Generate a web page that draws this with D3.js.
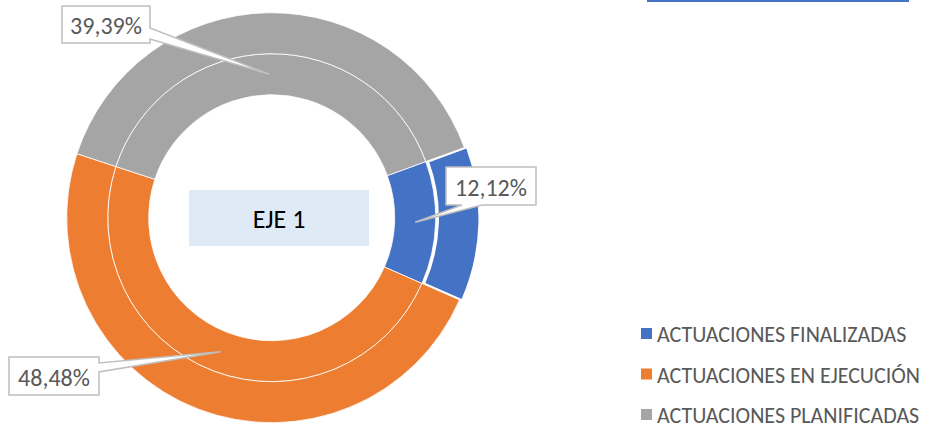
<!DOCTYPE html>
<html>
<head>
    <meta charset="utf-8">
    <title>EJE 1</title>
    <style>
        body { margin: 0; background: #fff; }
        svg { display: block; }
    </style>
    <script src="https://cdnjs.cloudflare.com/ajax/libs/d3/7.8.5/d3.min.js"></script>
</head>
<body>
    <script>
        const categories = ["ACTUACIONES FINALIZADAS", "ACTUACIONES EN EJECUCIÓN", "ACTUACIONES PLANIFICADAS"]
        const values = [12.12, 48.48, 39.39]
        const labels = ["12,12%", "48,48%", "39,39%"]
        const colors = ["#4472C4", "#ED7D31", "#A5A5A5"]
        const centerTitle = "EJE 1"

        const width = 930
        const height = 434
        const cx = 271.7, cy = 217.7
        const rHole = 123, rMid = 164, rOuter = 205
        const font = "Carlito, Calibri, Lato, sans-serif"

        const svg = d3.select("body").append("svg")
            .attr("width", width)
            .attr("height", height)

        const pie = d3.pie()
            .sort(null)
            .startAngle(70 * Math.PI / 180)
            .endAngle(70 * Math.PI / 180 + 2 * Math.PI)
        const slices = pie(values)

        const arcOuter = d3.arc().innerRadius(rMid).outerRadius(rOuter)
        const arcInner = d3.arc().innerRadius(rHole).outerRadius(rMid)

        const g = svg.append("g").attr("transform", `translate(${cx},${cy})`)

        // inner ring
        g.selectAll(".inner")
            .data(slices)
            .enter()
            .append("path")
                .attr("class", "inner")
                .attr("d", arcInner)
                .attr("fill", (d, i) => colors[i])
                .attr("stroke", "#fff")
                .attr("stroke-width", 0.8)

        // outer ring, first slice pulled out a little
        g.selectAll(".outer")
            .data(slices)
            .enter()
            .append("path")
                .attr("class", "outer")
                .attr("d", arcOuter)
                .attr("transform", (d, i) => {
                    if (i != 0) return null
                    let a = (d.startAngle + d.endAngle) / 2
                    return `translate(${2.5 * Math.sin(a)},${-2.5 * Math.cos(a)})`
                })
                .attr("fill", (d, i) => colors[i])
                .attr("stroke", "#fff")
                .attr("stroke-width", (d, i) => i == 0 ? 1.5 : 0.8)

        // center title box
        svg.append("rect")
            .attr("x", 189).attr("y", 190)
            .attr("width", 180).attr("height", 56)
            .attr("fill", "#DEEAF6")
        svg.append("text")
            .attr("x", 279).attr("y", 219)
            .attr("text-anchor", "middle")
            .attr("dominant-baseline", "central")
            .attr("font-family", font)
            .attr("font-size", 26)
            .attr("fill", "#000")
            .text(centerTitle)

        // callout boxes: box + side where the tail leaves + two points on that side
        const callouts = [
            {box: [446, 167, 90, 38], side: "bottom", t: [16, 36]},
            {box: [9, 357, 90, 38], side: "right", t: [6, 15]},
            {box: [62, 6, 88, 37], side: "right", t: [22, 33]}
        ]

        function calloutPath(c, tip) {
            let [x, y, w, h] = c.box
            let [a, b] = c.t
            let p = []
            if (c.side == "right") {
                p = [[x, y], [x + w, y], [x + w, y + a], tip, [x + w, y + b], [x + w, y + h], [x, y + h]]
            } else {
                p = [[x, y], [x + w, y], [x + w, y + h], [x + b, y + h], tip, [x + a, y + h], [x, y + h]]
            }
            return "M" + p.join("L") + "Z"
        }

        const lbl = svg.selectAll(".lbl")
            .data(slices)
            .enter()
            .append("g")
                .attr("class", "lbl")

        lbl.append("path")
            .attr("d", (d, i) => {
                let c = arcInner.centroid(d)
                return calloutPath(callouts[i], [cx + c[0], cy + c[1]])
            })
            .attr("fill", "#fff")
            .attr("stroke", "#BFBFBF")
            .attr("stroke-width", 1.5)
            .attr("stroke-linejoin", "miter")

        lbl.append("text")
            .attr("x", (d, i) => callouts[i].box[0] + callouts[i].box[2] / 2)
            .attr("y", (d, i) => callouts[i].box[1] + callouts[i].box[3] / 2 + 1)
            .attr("text-anchor", "middle")
            .attr("dominant-baseline", "central")
            .attr("font-family", font)
            .attr("font-size", 24)
            .attr("fill", "#595959")
            .text((d, i) => labels[i])

        // top-right line
        svg.append("rect")
            .attr("x", 647).attr("y", 0)
            .attr("width", 262).attr("height", 2)
            .attr("fill", "#4472C4")

        // legend
        const legendY = d3.scalePoint()
            .domain(categories)
            .range([333.5, 414.5])

        const leg = svg.selectAll(".leg")
            .data(categories)
            .enter()
            .append("g")
                .attr("class", "leg")
                .attr("transform", d => `translate(641,${legendY(d)})`)
        leg.append("rect")
            .attr("x", 0).attr("y", -5.5)
            .attr("width", 11).attr("height", 11)
            .attr("fill", (d, i) => colors[i])
        leg.append("text")
            .attr("x", 16).attr("y", 1)
            .attr("dominant-baseline", "central")
            .attr("font-family", font)
            .attr("font-size", 22)
            .attr("fill", "#595959")
            .text(d => d)
    </script>
</body>
</html>
